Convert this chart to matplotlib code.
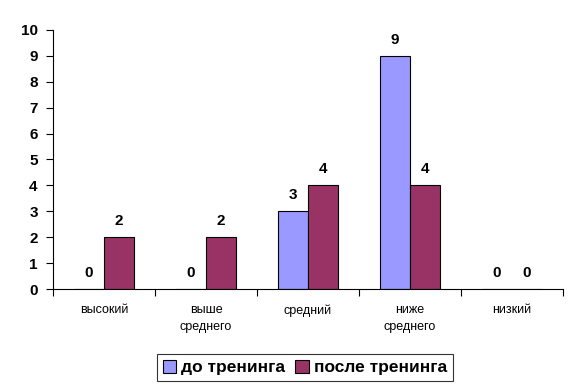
import matplotlib
matplotlib.use("Agg")
import matplotlib.pyplot as plt
import numpy as np

categories = ["высокий", "выше\nсреднего", "средний", "ниже\nсреднего", "низкий"]
before = [0, 0, 3, 9, 0]
after = [2, 2, 4, 4, 0]
series_names = ["до тренинга", "после тренинга"]
y_ticks = list(range(0, 11))

plt.rcParams["font.family"] = ["Liberation Sans", "DejaVu Sans"]

fig = plt.figure(figsize=(5.78, 3.88), dpi=100)
ax = fig.add_axes([0.0917, 0.255, 0.882, 0.668])

x = np.arange(len(categories))
w = 0.295
colors = ["#9999FF", "#993366"]
for i, (vals, name, c) in enumerate(zip([before, after], series_names, colors)):
    pos = x + (i - 0.5) * w
    ax.bar(pos, vals, width=w, color=c, edgecolor="black", linewidth=0.8, label=name)
    for p, v in zip(pos, vals):
        ax.text(p, v + 0.35, str(v), ha="center", va="bottom", fontsize=11, fontweight="bold")

ax.set_xlim(-0.5, len(categories) - 0.5)
ax.set_ylim(0, 10)
ax.set_yticks(y_ticks)
ax.set_yticklabels([str(t) for t in y_ticks], fontsize=11, fontweight="bold")
ax.set_xticks(np.arange(-0.5, len(categories), 1.0))
ax.set_xticklabels([])
ax.set_xticks(x, minor=True)
ax.set_xticklabels(categories, minor=True, fontsize=9, linespacing=1.5)
ax.tick_params(axis="x", which="minor", length=0, pad=11)
ax.tick_params(axis="x", which="major", length=5, direction="out")
ax.tick_params(axis="y", length=5, direction="out", pad=6)
for s in ["top", "right"]:
    ax.spines[s].set_visible(False)

leg = ax.legend(loc="lower center", bbox_to_anchor=(0.494, -0.39), ncol=2, frameon=True,
                fancybox=False, edgecolor="black", prop={"size": 12.5, "weight": "bold"},
                handlelength=0.75, handleheight=0.75, handletextpad=0.3, columnspacing=0.6,
                borderpad=0.35)
leg.get_frame().set_linewidth(0.8)

fig.savefig("out.png", dpi=100)
